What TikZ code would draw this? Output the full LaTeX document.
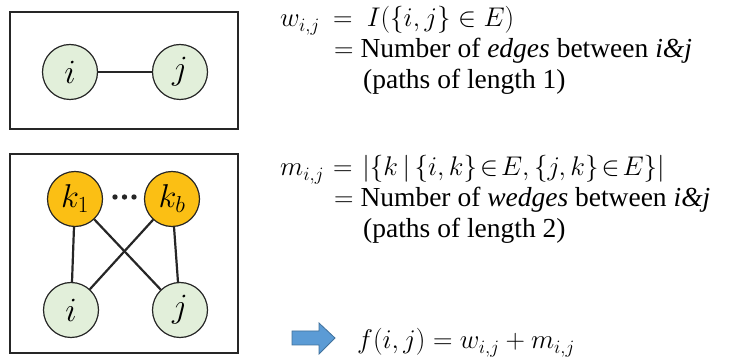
\RequirePackage{fix-cm}
\documentclass[tikz,border=0pt]{standalone}
\usepackage{amsmath}
\usepackage{fontspec}
\setmainfont{Liberation Serif}
\definecolor{ngreen}{HTML}{E2EFDA}
\definecolor{norange}{HTML}{FBBF14}
\definecolor{edgec}{HTML}{262626}
\definecolor{arrfill}{HTML}{5B9BD5}
\definecolor{arrdraw}{HTML}{41719C}
\newcommand\mth[1]{{\fontsize{27}{30}\selectfont$#1$}}
\tikzset{
  vnode/.style={circle, draw=edgec, line width=1.2pt, fill=ngreen, minimum size=55pt, inner sep=0pt, font=\fontsize{34}{36}\selectfont},
  knode/.style={circle, draw=edgec, line width=1.2pt, fill=norange, minimum size=55pt, inner sep=0pt, font=\fontsize{33}{35}\selectfont},
  conn/.style={draw=edgec, line width=2.2pt},
  frame/.style={draw=edgec, line width=1.2pt},
  txt/.style={anchor=base west, inner sep=0pt, font=\fontsize{27.5}{30}\selectfont},
}
\begin{document}
\begin{tikzpicture}[x=1pt,y=-1pt]
\useasboundingbox (0,0) rectangle (734,363);
% box 1
\draw[frame] (10,12) rectangle (238,129);
\node[vnode] (i1) at (70,72) {$i$};
\node[vnode] (j1) at (180,72) {$j$};
\draw[conn] (i1) -- (j1);
% box 2
\draw[frame] (10,154) rectangle (238,353);
\node[knode] (k1) at (75,199) {$k_1$};
\node[knode] (kb) at (172,199) {$k_b$};
\node[vnode] (i2) at (71,310) {$i$};
\node[vnode] (j2) at (180,310) {$j$};
\draw[conn] (k1) -- (i2);
\draw[conn] (k1) -- (j2);
\draw[conn] (kb) -- (i2);
\draw[conn] (kb) -- (j2);
\fill[edgec] (115,197) circle (2.7) (124.5,197) circle (2.7) (134,197) circle (2.7);
% text block 1
\node[txt] (w1) at (280,27) {\mth{w_{i,j}}};
\node[txt] (w1b) at (333,27) {\mth{=\ I(\{i,j\}\in E)}};
\node[txt] (w2) at (334,58) {\mth{=} Number of \textit{edges} between \textit{i\&j}};
\node[txt] (w3) at (363,89) {(paths of length 1)};
% text block 2
\node[txt] (m1) at (280,176) {\mth{m_{i,j}}};
\node[txt] (m1b) at (333,176) {\mth{=\ \medmuskip=1mu\thickmuskip=2mu|\{k\,|\,\{i,k\}\in E,\{j,k\}\in E\}|}};
\node[txt] (m2) at (334,207) {\mth{=} Number of \textit{wedges} between \textit{i\&j}};
\node[txt] (m3) at (363,238) {(paths of length 2)};
% arrow + formula
\draw[fill=arrfill, draw=arrdraw, line width=0.8pt] (292,331) -- (319,331) -- (319,323) -- (335,338) -- (319,354) -- (319,345) -- (292,345) -- cycle;
\node[txt] (f) at (357,349) {\mth{f(i,j) = w_{i,j} + m_{i,j}}};
\end{tikzpicture}
\end{document}
